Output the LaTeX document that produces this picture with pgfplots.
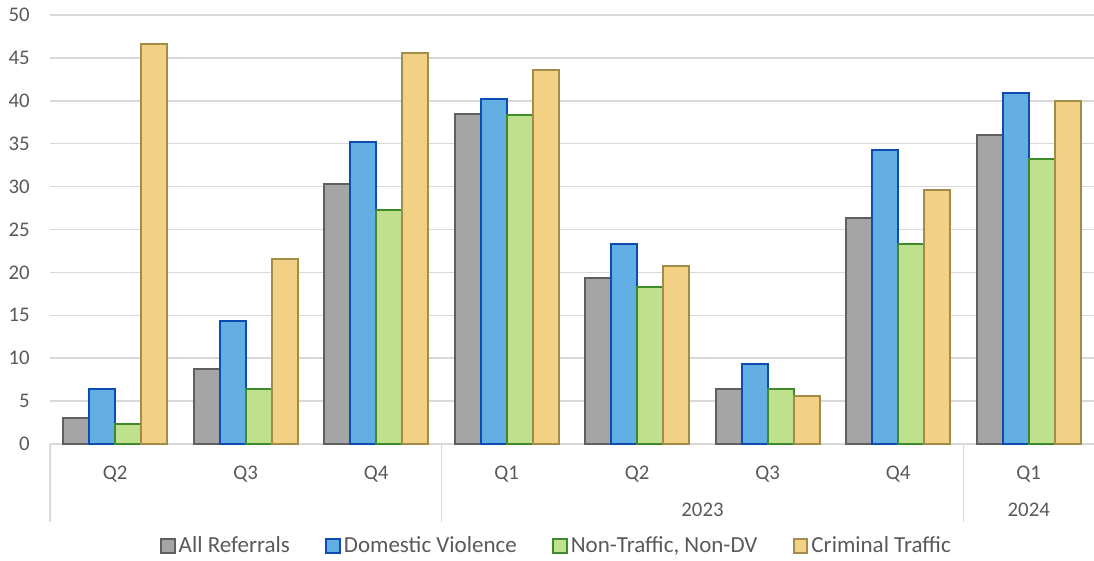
\documentclass[border=0pt]{standalone}
\usepackage{fontspec}
\setmainfont{Carlito}
\usepackage{pgfplots}
\pgfplotsset{compat=1.18}

\definecolor{txt}{HTML}{595959}
\definecolor{gridc}{HTML}{D9D9D9}
\definecolor{grayfill}{HTML}{A5A5A5}
\definecolor{grayline}{HTML}{5F5F5F}
\definecolor{bluefill}{HTML}{63AFE3}
\definecolor{blueline}{HTML}{0B4DB5}
\definecolor{greenfill}{HTML}{BFE08C}
\definecolor{greenline}{HTML}{3D8B2A}
\definecolor{yellowfill}{HTML}{F2D184}
\definecolor{yellowline}{HTML}{A18D48}

\newcommand{\lblfont}{\fontsize{10.4}{12.5}\selectfont}
\newcommand{\legfont}{\fontsize{11.5}{13.8}\selectfont}

\pgfplotsset{
  sqlegend/.style={legend image code/.code={%
      \draw[##1, line width=1pt] (0pt,-3.4pt) rectangle (6.8pt,3.4pt);}},
}

\begin{document}
\begin{tikzpicture}
\useasboundingbox (-25pt,-58.5pt) rectangle (522pt,222pt);
\begin{axis}[
  at={(0pt,0pt)}, anchor=south west,
  scale only axis, width=522pt, height=214.5pt,
  xmin=-0.5, xmax=7.5, ymin=0, ymax=50,
  ybar=0pt, bar width=13.05pt,
  ytick={0,5,...,50},
  xtick={0,...,7},
  xticklabels={Q2,Q3,Q4,Q1,Q2,Q3,Q4,Q1},
  ymajorgrids, grid style={draw=gridc, line width=0.75pt},
  axis x line*=bottom, axis y line*=left,
  y axis line style={draw=none},
  x axis line style={draw=gridc, line width=1pt, -},
  major tick style={draw=none},
  /pgf/number format/assume math mode=true,
  tick label style={font=\lblfont, text=txt},
  yticklabel style={anchor=east, inner sep=0pt, xshift=-10pt},
  xticklabel style={anchor=base, inner sep=0pt, yshift=-13.3pt},
  clip=false,
  legend columns=4,
  legend style={at={(0.4856,0)}, anchor=center, yshift=-51pt,
    draw=none, fill=none, font=\legfont, text=txt,
    /tikz/every even column/.append style={column sep=16pt},
    nodes={inner sep=1.6pt}},
]
\addplot[fill=grayfill, draw=grayline, line width=1pt, sqlegend]
  coordinates {(0,3.0) (1,8.7) (2,30.3) (3,38.5) (4,19.4) (5,6.4) (6,26.3) (7,36.0)};
\addplot[fill=bluefill, draw=blueline, line width=1pt, sqlegend]
  coordinates {(0,6.4) (1,14.3) (2,35.2) (3,40.2) (4,23.3) (5,9.3) (6,34.3) (7,40.9)};
\addplot[fill=greenfill, draw=greenline, line width=1pt, sqlegend]
  coordinates {(0,2.3) (1,6.4) (2,27.3) (3,38.3) (4,18.3) (5,6.4) (6,23.3) (7,33.2)};
\addplot[fill=yellowfill, draw=yellowline, line width=1pt, sqlegend]
  coordinates {(0,46.6) (1,21.6) (2,45.6) (3,43.6) (4,20.7) (5,5.6) (6,29.6) (7,40.0)};
\legend{All Referrals, Domestic Violence, {Non-Traffic, Non-DV}, Criminal Traffic}

% year group separators and labels
\draw[gridc, line width=0.75pt] (axis cs:-0.5,0) -- ++(0pt,-39pt);
\draw[gridc, line width=0.75pt] (axis cs:2.5,0) -- ++(0pt,-39pt);
\draw[gridc, line width=0.75pt] (axis cs:6.5,0) -- ++(0pt,-39pt);
\node[anchor=base, inner sep=0pt, font=\lblfont, text=txt, yshift=-36.3pt] at (axis cs:4.5,0) {2023};
\node[anchor=base, inner sep=0pt, font=\lblfont, text=txt, yshift=-36.3pt] at (axis cs:7,0) {2024};
\end{axis}
\end{tikzpicture}
\end{document}
